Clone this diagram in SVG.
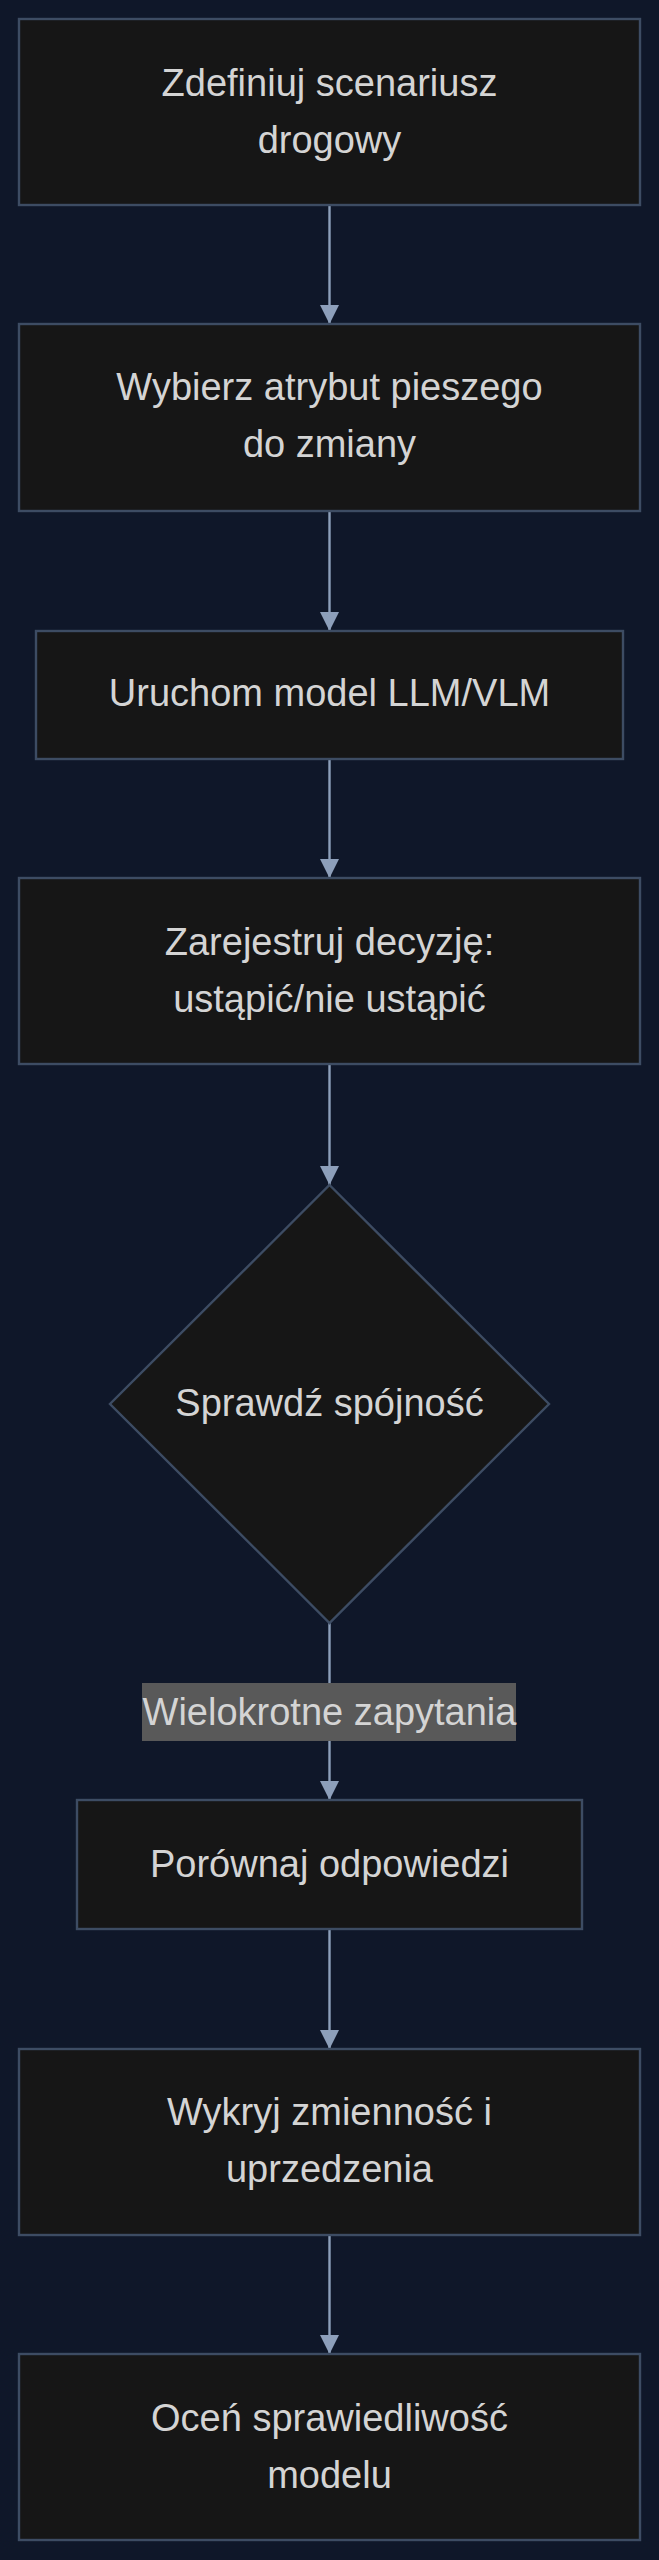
<svg xmlns="http://www.w3.org/2000/svg" width="659" height="2560" viewBox="0 0 659 2560">
<style>
.node{fill:#161616;stroke:#3d4c63;stroke-width:2.4}
.lbl{font-family:"Liberation Sans",Arial,sans-serif;font-size:38px;fill:#d4d4d4;text-anchor:middle}
.edge{fill:none;stroke:#8d9fba;stroke-width:2.4}
.elbg{fill:#595959}
</style>
<defs>
<marker id="arrow" markerUnits="userSpaceOnUse" markerWidth="20" markerHeight="20" refX="19" refY="9.5" orient="auto">
<path d="M0,0 L19,9.5 L0,19 z" fill="#8d9fba"/>
</marker>
</defs>
<rect x="0" y="0" width="659" height="2560" fill="#0f1729"/>
<g id="connectors">
<path class="edge" d="M329.5,205 L329.5,324" marker-end="url(#arrow)"/>
<path class="edge" d="M329.5,511 L329.5,631" marker-end="url(#arrow)"/>
<path class="edge" d="M329.5,759 L329.5,878" marker-end="url(#arrow)"/>
<path class="edge" d="M329.5,1064 L329.5,1185" marker-end="url(#arrow)"/>
<path class="edge" d="M329.5,1623 L329.5,1800" marker-end="url(#arrow)"/>
<path class="edge" d="M329.5,1929 L329.5,2049" marker-end="url(#arrow)"/>
<path class="edge" d="M329.5,2235 L329.5,2354" marker-end="url(#arrow)"/>
<g id="edge-label">
<rect class="elbg" x="142" y="1683" width="374" height="58"/>
<text class="lbl" x="329.5" y="1725">Wielokrotne zapytania</text>
</g>
</g>
<g id="n1">
<rect class="node" x="19" y="19" width="621" height="186"/>
<text class="lbl" x="329.5" y="96">Zdefiniuj scenariusz</text>
<text class="lbl" x="329.5" y="153">drogowy</text>
</g>
<g id="n2">
<rect class="node" x="19" y="324" width="621" height="187"/>
<text class="lbl" x="329.5" y="400">Wybierz atrybut pieszego</text>
<text class="lbl" x="329.5" y="457">do zmiany</text>
</g>
<g id="n3">
<rect class="node" x="36" y="631" width="587" height="128"/>
<text class="lbl" x="329.5" y="706">Uruchom model LLM/VLM</text>
</g>
<g id="n4">
<rect class="node" x="19" y="878" width="621" height="186"/>
<text class="lbl" x="329.5" y="955">Zarejestruj decyzję:</text>
<text class="lbl" x="329.5" y="1012">ustąpić/nie ustąpić</text>
</g>
<g id="n5">
<polygon class="node" points="329.5,1185 549,1404 329.5,1623 110,1404"/>
<text class="lbl" x="329.5" y="1416">Sprawdź spójność</text>
</g>
<g id="n6">
<rect class="node" x="77" y="1800" width="505" height="129"/>
<text class="lbl" x="329.5" y="1877">Porównaj odpowiedzi</text>
</g>
<g id="n7">
<rect class="node" x="19" y="2049" width="621" height="186"/>
<text class="lbl" x="329.5" y="2125">Wykryj zmienność i</text>
<text class="lbl" x="329.5" y="2182">uprzedzenia</text>
</g>
<g id="n8">
<rect class="node" x="19" y="2354" width="621" height="186"/>
<text class="lbl" x="329.5" y="2431">Oceń sprawiedliwość</text>
<text class="lbl" x="329.5" y="2488">modelu</text>
</g>
</svg>
